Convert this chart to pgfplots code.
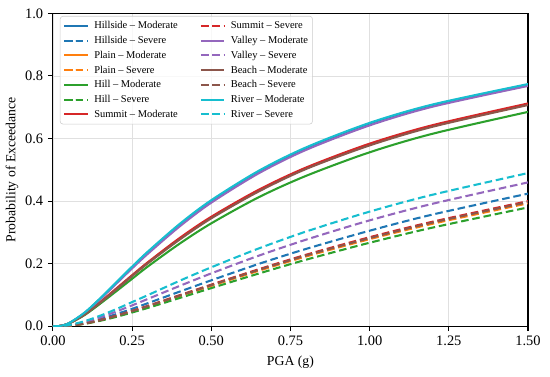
\documentclass[border=0pt]{standalone}
\usepackage{fontspec}
\setmainfont{Liberation Serif}
\usepackage{pgfplots}
\pgfplotsset{compat=1.18}
\definecolor{cBlue}{HTML}{1F77B4}
\definecolor{cOrange}{HTML}{FF7F0E}
\definecolor{cGreen}{HTML}{2CA02C}
\definecolor{cRed}{HTML}{D62728}
\definecolor{cPurple}{HTML}{9467BD}
\definecolor{cBrown}{HTML}{8C564B}
\definecolor{cCyan}{HTML}{17BECF}
\tikzset{
  mod/.style={line width=1.5pt, smooth},
  sev/.style={line width=1.5pt, smooth, dash pattern=on 5.5pt off 2.8pt},
}
\begin{document}
\begin{tikzpicture}
\begin{axis}[
  scale only axis, width=345.5pt, height=227.6pt,
  xmin=0, xmax=1.5, ymin=0, ymax=1,
  xtick={0,0.25,0.5,0.75,1,1.25,1.5},
  ytick={0,0.2,0.4,0.6,0.8,1},
  /pgf/number format/assume math mode=true,
  xticklabel style={/pgf/number format/.cd, fixed, fixed zerofill, precision=2},
  yticklabel style={/pgf/number format/.cd, fixed, fixed zerofill, precision=1},
  tick label style={font=\fontsize{10.5}{12}\selectfont},
  label style={font=\fontsize{10.5}{12}\selectfont},
  xlabel={PGA (g)}, ylabel={Probability of Exceedance},
  every axis x label/.style={at={(axis description cs:0.5,-0.1142)}, anchor=center},
  every axis y label/.style={at={(axis description cs:-0.0862,0.5)}, anchor=center, rotate=90},
  grid=major, major grid style={draw=black!12, line width=0.6pt},
  axis line style={line width=0.8pt},
  tick align=outside, xtick pos=bottom, ytick pos=left,
  major tick length=3.6pt,
  every tick/.style={black, line width=0.8pt},
  legend columns=2,
  legend cell align=left,
  legend style={at={(axis description cs:0.0147,0.9915)}, anchor=north west,
    font=\fontsize{7.6}{9}\selectfont, draw=black!20, rounded corners=2pt,
    fill=white, fill opacity=0.8, text opacity=1,
    row sep=0.9pt, inner sep=2.2pt,
    nodes={inner sep=1pt, text height=6pt, text depth=1.8pt},
    /tikz/every odd column/.append style={column sep=3pt},
    /tikz/every even column/.append style={column sep=15pt}},
]
% legend entries (row-wise order)
\addlegendimage{cBlue, mod}\addlegendentry{Hillside -- Moderate}
\addlegendimage{cRed, sev}\addlegendentry{Summit -- Severe}
\addlegendimage{cBlue, sev}\addlegendentry{Hillside -- Severe}
\addlegendimage{cPurple, mod}\addlegendentry{Valley -- Moderate}
\addlegendimage{cOrange, mod}\addlegendentry{Plain -- Moderate}
\addlegendimage{cPurple, sev}\addlegendentry{Valley -- Severe}
\addlegendimage{cOrange, sev}\addlegendentry{Plain -- Severe}
\addlegendimage{cBrown, mod}\addlegendentry{Beach -- Moderate}
\addlegendimage{cGreen, mod}\addlegendentry{Hill -- Moderate}
\addlegendimage{cBrown, sev}\addlegendentry{Beach -- Severe}
\addlegendimage{cGreen, sev}\addlegendentry{Hill -- Severe}
\addlegendimage{cCyan, mod}\addlegendentry{River -- Moderate}
\addlegendimage{cRed, mod}\addlegendentry{Summit -- Moderate}
\addlegendimage{cCyan, sev}\addlegendentry{River -- Severe}

% Hillside
\addplot[cBlue, mod, forget plot] coordinates {(0,0) (0.02,0.0008) (0.05,0.0095) (0.1,0.043) (0.15,0.089) (0.2,0.139) (0.25,0.189) (0.3,0.237) (0.4,0.324) (0.5,0.400) (0.65,0.494) (0.8,0.569) (1.0,0.648) (1.2,0.707) (1.5,0.772)};
\addplot[cBlue, sev, forget plot] coordinates {(0,0) (0.02,0.0002) (0.05,0.0022) (0.1,0.0105) (0.15,0.0233) (0.2,0.0389) (0.25,0.0557) (0.3,0.0739) (0.4,0.1107) (0.5,0.1469) (0.65,0.1994) (0.8,0.2475) (1.0,0.3054) (1.2,0.3574) (1.5,0.4239)};
% Plain
\addplot[cOrange, mod, forget plot] coordinates {(0,0) (0.02,0.0008) (0.05,0.0088) (0.1,0.0378) (0.15,0.0770) (0.2,0.1189) (0.25,0.1617) (0.3,0.2025) (0.4,0.279) (0.5,0.347) (0.65,0.433) (0.8,0.505) (1.0,0.580) (1.2,0.640) (1.5,0.709)};
\addplot[cOrange, sev, forget plot] coordinates {(0,0) (0.02,0.0001) (0.05,0.0017) (0.1,0.0085) (0.15,0.0194) (0.2,0.0325) (0.25,0.0475) (0.3,0.0632) (0.4,0.0963) (0.5,0.1293) (0.65,0.1775) (0.8,0.2233) (1.0,0.2784) (1.2,0.3279) (1.5,0.3929)};
% Hill
\addplot[cGreen, mod, forget plot] coordinates {(0,0) (0.02,0.0008) (0.05,0.0086) (0.1,0.0359) (0.15,0.0728) (0.2,0.112) (0.25,0.1518) (0.3,0.1913) (0.4,0.264) (0.5,0.329) (0.65,0.4125) (0.8,0.481) (1.0,0.556) (1.2,0.6156) (1.5,0.685)};
\addplot[cGreen, sev, forget plot] coordinates {(0,0) (0.02,0.0001) (0.05,0.0015) (0.1,0.0078) (0.15,0.0178) (0.2,0.0301) (0.25,0.0441) (0.3,0.0588) (0.4,0.0904) (0.5,0.1220) (0.65,0.1686) (0.8,0.2130) (1.0,0.2670) (1.2,0.3156) (1.5,0.3798)};
% Summit
\addplot[cRed, mod, forget plot] coordinates {(0,0) (0.02,0.0008) (0.05,0.0091) (0.1,0.0385) (0.15,0.078) (0.2,0.1207) (0.25,0.1633) (0.3,0.2049) (0.4,0.282) (0.5,0.350) (0.65,0.4364) (0.8,0.5076) (1.0,0.5836) (1.2,0.643) (1.5,0.712)};
\addplot[cRed, sev, forget plot] coordinates {(0,0) (0.02,0.0001) (0.05,0.0018) (0.1,0.0090) (0.15,0.0203) (0.2,0.0340) (0.25,0.0494) (0.3,0.0655) (0.4,0.0994) (0.5,0.1332) (0.65,0.1823) (0.8,0.2288) (1.0,0.2846) (1.2,0.3345) (1.5,0.3999)};
% Valley
\addplot[cPurple, mod, forget plot] coordinates {(0,0) (0.02,0.0007) (0.05,0.0092) (0.1,0.042) (0.15,0.087) (0.2,0.136) (0.25,0.185) (0.3,0.232) (0.4,0.319) (0.5,0.395) (0.65,0.489) (0.8,0.564) (1.0,0.642) (1.2,0.702) (1.5,0.768)};
\addplot[cPurple, sev, forget plot] coordinates {(0,0) (0.02,0.0003) (0.05,0.0030) (0.1,0.0134) (0.15,0.0288) (0.2,0.0472) (0.25,0.0668) (0.3,0.0875) (0.4,0.1289) (0.5,0.1691) (0.65,0.2257) (0.8,0.2770) (1.0,0.3385) (1.2,0.3918) (1.5,0.4598)};
% Beach
\addplot[cBrown, mod, forget plot] coordinates {(0,0) (0.02,0.0008) (0.05,0.0087) (0.1,0.0373) (0.15,0.0762) (0.2,0.1180) (0.25,0.1606) (0.3,0.2016) (0.4,0.277) (0.5,0.345) (0.65,0.431) (0.8,0.503) (1.0,0.578) (1.2,0.638) (1.5,0.707)};
\addplot[cBrown, sev, forget plot] coordinates {(0,0) (0.02,0.0001) (0.05,0.0018) (0.1,0.0088) (0.15,0.0199) (0.2,0.0334) (0.25,0.0486) (0.3,0.0645) (0.4,0.0981) (0.5,0.1315) (0.65,0.1803) (0.8,0.2264) (1.0,0.2817) (1.2,0.3317) (1.5,0.3968)};
% River
\addplot[cCyan, mod, forget plot] coordinates {(0,0) (0.02,0.0008) (0.05,0.0097) (0.1,0.0437) (0.15,0.0901) (0.2,0.1405) (0.25,0.1907) (0.3,0.2389) (0.4,0.327) (0.5,0.403) (0.65,0.497) (0.8,0.572) (1.0,0.650) (1.2,0.709) (1.5,0.774)};
\addplot[cCyan, sev, forget plot] coordinates {(0,0) (0.02,0.0003) (0.05,0.0037) (0.1,0.0163) (0.15,0.0342) (0.2,0.0549) (0.25,0.0773) (0.3,0.0997) (0.4,0.1454) (0.5,0.1885) (0.65,0.2488) (0.8,0.3030) (1.0,0.3664) (1.2,0.4207) (1.5,0.4896)};
\end{axis}
\pgfresetboundingbox
\path (current axis.south west) ++(-38.5pt,-36.4pt) rectangle ([shift={(16pt,9.7pt)}]current axis.north east);
\end{tikzpicture}
\end{document}
